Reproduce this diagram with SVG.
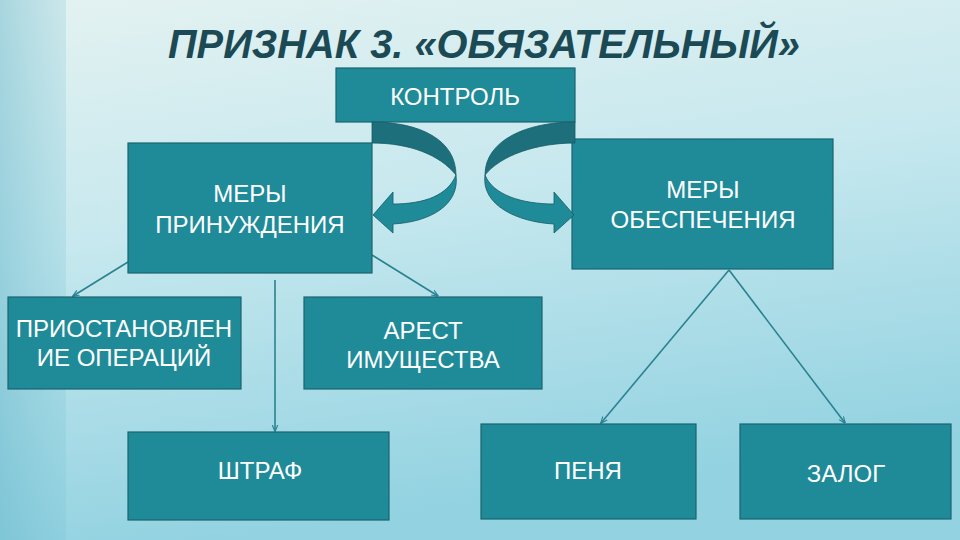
<svg xmlns="http://www.w3.org/2000/svg" width="960" height="540" viewBox="0 0 960 540">
<defs>
<linearGradient id="bg" x1="0" y1="0" x2="0.25" y2="1">
<stop offset="0" stop-color="#e4f2f1"/>
<stop offset="0.45" stop-color="#c6e8ee"/>
<stop offset="1" stop-color="#92d2e1"/>
</linearGradient>
<linearGradient id="strip" x1="0" y1="0" x2="1" y2="0">
<stop offset="0" stop-color="#5fb3c8" stop-opacity="0.45"/>
<stop offset="1" stop-color="#6fbdd0" stop-opacity="0.2"/>
</linearGradient>
<marker id="ah" viewBox="0 0 10 10" refX="9" refY="5" markerWidth="7" markerHeight="7" orient="auto" markerUnits="userSpaceOnUse">
<path d="M0,1 L10,5 L0,9" fill="none" stroke="#2a8290" stroke-width="1.6"/>
</marker>
</defs>
<style>
.box{fill:#1f8b99;stroke:#1a6470;stroke-width:1.2}
.t{font-family:"Liberation Sans",Arial,sans-serif;font-size:24px;fill:#ffffff;text-anchor:middle}
.ln{stroke:#2a8290;stroke-width:1.6;fill:none;marker-end:url(#ah)}
.back{fill:#1c6f7b;stroke:#155a64;stroke-width:0.8}
.front{fill:#1f8b99;stroke:#155a64;stroke-width:0.8}
</style>
<rect x="0" y="0" width="960" height="540" fill="url(#bg)"/>
<rect x="0" y="0" width="66" height="540" fill="url(#strip)"/>
<text x="484" y="58" font-family="'Liberation Sans',Arial,sans-serif" font-size="41" font-weight="bold" font-style="italic" fill="#1b4a55" text-anchor="middle" textLength="632" lengthAdjust="spacingAndGlyphs">ПРИЗНАК 3. «ОБЯЗАТЕЛЬНЫЙ»</text>

<g id="connectors">
<line class="ln" x1="128" y1="262" x2="73" y2="296"/>
<line class="ln" x1="372" y1="255" x2="438" y2="296"/>
<line class="ln" x1="275" y1="280" x2="275" y2="431"/>
<line class="ln" x1="729" y1="270" x2="601" y2="423"/>
<line class="ln" x1="729" y1="270" x2="845" y2="423"/>
</g>

<g id="kontrol">
<rect class="box" x="336" y="68" width="239" height="54"/>
<text class="t" x="455" y="105">КОНТРОЛЬ</text>
</g>

<g id="mery-prinuzhdeniya">
<rect class="box" x="128" y="143" width="244" height="130"/>
<text class="t" x="250" y="202">МЕРЫ</text>
<text class="t" x="250" y="233">ПРИНУЖДЕНИЯ</text>
</g>

<g id="mery-obespecheniya">
<rect class="box" x="572" y="139" width="261" height="130"/>
<text class="t" x="703" y="198">МЕРЫ</text>
<text class="t" x="703" y="228">ОБЕСПЕЧЕНИЯ</text>
</g>

<g id="arrow-left">
<path class="back" d="M372,122 C420,122 456,140 456,175 C440,155 410,143 372,143 Z"/>
<path class="front" d="M456,175 C460,205 430,222 393,224 L393,233 L373,215 L393,192 L393,204 C425,204 448,195 456,175 Z"/>
</g>
<g id="arrow-right" transform="translate(947,0) scale(-1,1)">
<path class="back" d="M372,122 C420,122 462,140 462,175 C446,155 410,143 372,143 Z"/>
<path class="front" d="M462,175 C466,205 430,222 393,224 L393,233 L373,215 L393,192 L393,204 C425,204 454,195 462,175 Z"/>
</g>

<g id="priostanovlenie">
<rect class="box" x="8" y="297" width="233" height="92"/>
<text class="t" x="124" y="337">ПРИОСТАНОВЛЕН</text>
<text class="t" x="124" y="366">ИЕ ОПЕРАЦИЙ</text>
</g>

<g id="arest">
<rect class="box" x="304" y="297" width="238" height="92"/>
<text class="t" x="423" y="339">АРЕСТ</text>
<text class="t" x="423" y="368">ИМУЩЕСТВА</text>
</g>

<g id="shtraf">
<rect class="box" x="128" y="432" width="261" height="88"/>
<text class="t" x="260" y="479">ШТРАФ</text>
</g>

<g id="penya">
<rect class="box" x="481" y="424" width="215" height="95"/>
<text class="t" x="588" y="479">ПЕНЯ</text>
</g>

<g id="zalog">
<rect class="box" x="740" y="424" width="211" height="95"/>
<text class="t" x="846" y="482">ЗАЛОГ</text>
</g>
</svg>
